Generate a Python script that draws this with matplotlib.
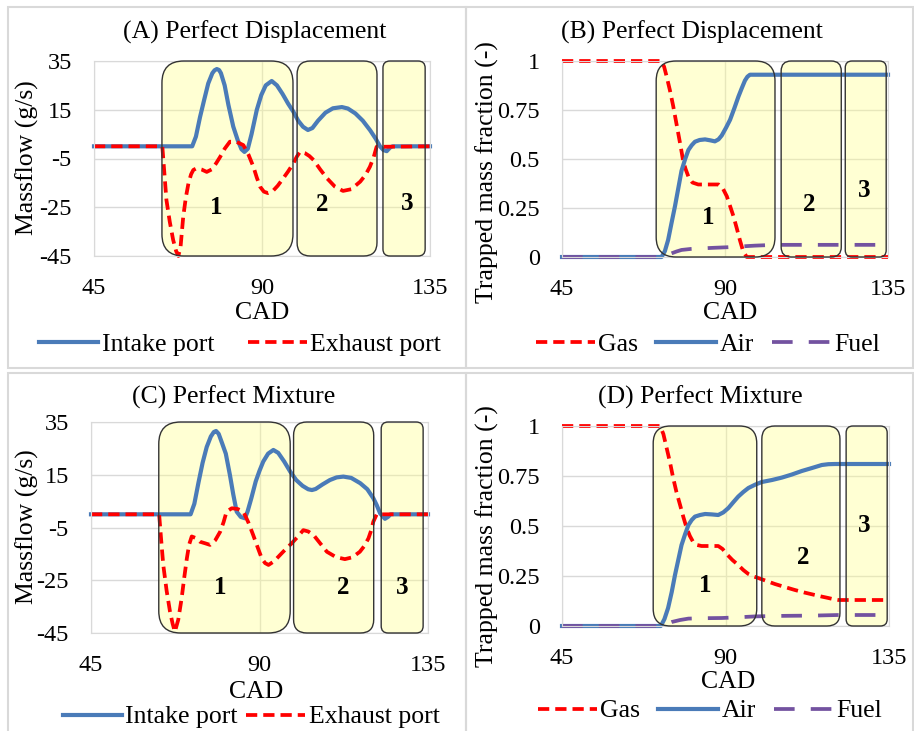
import matplotlib
matplotlib.use("Agg")
import matplotlib.pyplot as plt
from matplotlib.patches import FancyBboxPatch, Rectangle

plt.rcParams["font.family"] = ["Liberation Serif", "DejaVu Serif"]

# ---- values ----
cad_ticks = [45, 90, 135]
flow_ticks = [-45, -25, -5, 15, 35]
flow_labels = ["-45", "-25", "-5", "15", "35"]
frac_ticks = [0, 0.25, 0.5, 0.75, 1]
frac_labels = ["0", "0.25", "0.5", "0.75", "1"]

# (A) perfect displacement - port massflow (g/s)
a_intake_cad = [45, 71.3, 72.3, 73.4, 74.5, 75.6, 76.7, 77.3, 77.9, 78.5, 79.0, 80.0, 81.0, 82.3,
                83.5, 84.5, 85.3, 86.2, 87.2, 88.6, 89.8, 91.0, 92.6, 94.0, 95.5, 97.0, 98.4,
                99.7, 101.0, 102.3, 103.5, 105.0, 107.0, 109.0, 111.4, 113.0, 115.0, 117.0,
                119.0, 120.5, 121.6, 122.5, 123.4, 124.3, 125.0, 135]
a_intake = [0, 0, 4, 12, 19, 25.8, 30, 31.2, 31.7, 31.3, 30, 25, 17, 8.1,
            2.5, -1.2, -2.3, -1, 5, 14.9, 21, 25, 26.8, 25, 21.5, 17.5, 14.2,
            10.5, 8, 6.7, 7.5, 10.5, 13.8, 15.6, 16.1, 15.5, 13.5, 10.5,
            6.5, 3, 0, -1.5, -2, -0.5, 0, 0]
a_exhaust_cad = [45, 63.3, 63.8, 64.4, 65.3, 66.2, 67.0, 67.6, 68.2, 68.9, 69.6, 70.3, 71.0,
                 71.6, 72.5, 73.8, 75.2, 76.5, 77.7, 78.8, 80.0, 81.4, 83.2, 85.0, 86.4,
                 87.7, 88.6, 89.5, 90.5, 91.6, 92.8, 94.2, 95.7, 97.0, 98.4, 99.3, 100.2,
                 101.5, 102.7, 103.8, 105.6, 107.4, 109.5, 111.7, 113.9, 116.3, 117.7,
                 118.9, 119.9, 120.7, 135]
a_exhaust = [0, 0, -10, -22, -31, -38.4, -43, -45, -41, -28.9, -21, -15.2, -11.5,
             -9.7, -9, -9.5, -10.5, -9.5, -7, -4.3, -1, 1.9, 1.8, 0.5, -3.5,
             -8.4, -12.8, -16.6, -18.6, -19.2, -18.5, -16.2, -13.1, -10.3, -7, -4.3, -2.2,
             -2.8, -4, -5.6, -9.5, -13.1, -16.5, -18.3, -17.6, -14.5, -11.8,
             -8.4, -4.5, -0.2, 0]

# (B) perfect displacement - trapped mass fraction
b_gas_cad = [45, 72.5, 73.2, 73.9, 74.8, 75.7, 76.4, 77.1, 77.8, 78.4, 79.1, 79.9, 81.0, 82.6,
             85.0, 88.2, 89.4, 90.5, 91.4, 92.3, 93.2, 94.1, 95.0, 96.0, 135]
b_gas = [1, 1, 0.97, 0.92, 0.85, 0.77, 0.70, 0.63, 0.56, 0.495, 0.45, 0.41, 0.38, 0.37,
         0.37, 0.37, 0.35, 0.31, 0.26, 0.21, 0.15, 0.087, 0.03, 0, 0]
b_air_cad = [45, 72.5, 73.4, 74.3, 75.2, 76.2, 77.1, 78.0, 79.0, 79.9, 80.8, 81.7, 83.0, 84.5,
             86.0, 87.2, 88.2, 89.1, 90.3, 91.4, 92.6, 93.7, 94.6, 95.5, 96.2, 96.9, 135]
b_air = [0, 0, 0.03, 0.087, 0.17, 0.26, 0.35, 0.44, 0.50, 0.546, 0.57, 0.588, 0.597, 0.60,
         0.595, 0.59, 0.60, 0.62, 0.66, 0.70, 0.76, 0.818, 0.86, 0.90, 0.92, 0.93, 0.93]
b_fuel_cad = [45, 72.5, 73.8, 75.3, 76.6, 78.0, 80.5, 83.5, 87.0, 90.9, 94.5, 98.3, 101.0, 103.8, 135]
b_fuel = [0, 0, 0.008, 0.019, 0.028, 0.036, 0.041, 0.044, 0.047, 0.05, 0.054, 0.058, 0.06, 0.062, 0.062]

# (C) perfect mixture - port massflow (g/s)
c_intake_cad = [45, 71.6, 72.6, 73.7, 74.8, 75.9, 77.0, 77.8, 78.4, 79.1, 80.0, 81.0, 82.1, 83.0,
                83.9, 85.0, 86.1, 86.8, 87.8, 89.0, 90.0, 91.0, 92.3, 93.7, 95.0, 96.6, 98.2,
                99.8, 101.5, 103.0, 104.0, 105.0, 106.8, 108.8, 110.6, 112.4, 114.5, 116.9,
                118.8, 120.4, 121.3, 122.2, 123.5, 124.3, 125.0, 135]
c_intake = [0, 0, 4, 12, 19.5, 25.5, 29.5, 31.2, 31.6, 30.5, 27, 23, 14.9, 7.5,
            1, -1, -1.5, 1, 6, 12.5, 16.5, 20, 23, 24.4, 23.3, 20, 16.2,
            13, 10.8, 9.5, 9.2, 9.6, 11.3, 13, 14, 14.3, 13.8, 11.8,
            9.5, 6.1, 3.5, 0.4, -1.7, -1, 0, 0]
c_exhaust_cad = [45, 63.2, 63.7, 64.3, 65.2, 66.1, 66.8, 67.4, 68.3, 69.2, 69.9, 70.6, 71.2,
                 71.9, 73.0, 74.1, 75.5, 76.8, 78.2, 79.5, 80.4, 81.2, 82.6, 84.2, 85.7,
                 87.0, 88.3, 89.5, 90.6, 91.5, 92.4, 93.9, 95.5, 97.0, 98.6, 100.2, 101.7,
                 103.0, 104.4, 106.2, 108.0, 110.4, 112.8, 114.8, 116.8, 118.0, 119.1,
                 119.8, 120.4, 121.3, 135]
c_exhaust = [0, 0, -9, -19.2, -29, -36.9, -41.5, -44.5, -40, -31.9, -24, -16.7, -11.5,
             -8.4, -9, -10.4, -11, -11.6, -9.8, -6.6, -3, 1, 2.3, 2, 1,
             -3, -7.8, -12.5, -16.7, -18.5, -19.2, -17.8, -15.4, -13.2, -11, -8.5, -6,
             -6.5, -7.8, -11, -14.2, -16.2, -17, -16.3, -14.2, -12, -9.1,
             -6.2, -2.8, 0, 0]

# (D) perfect mixture - trapped mass fraction
d_gas_cad = [45, 72.0, 72.9, 73.8, 74.7, 75.6, 76.5, 77.5, 78.4, 79.3, 80.2, 81.1, 82.2, 83.4,
             85.5, 88.0, 89.2, 90.3, 91.9, 93.5, 94.9, 96.3, 97.7, 99.0, 101.3, 103.6,
             106.3, 109.1, 111.8, 114.6, 116.5, 118.3, 119.7, 121.1, 135]
d_gas = [1, 1, 0.96, 0.89, 0.82, 0.74, 0.67, 0.605, 0.545, 0.49, 0.45, 0.42, 0.405, 0.40,
         0.40, 0.40, 0.385, 0.36, 0.33, 0.305, 0.28, 0.26, 0.248, 0.24, 0.225, 0.21,
         0.195, 0.18, 0.167, 0.155, 0.147, 0.14, 0.134, 0.13, 0.13]
d_air_cad = [45, 72.2, 73.2, 74.2, 75.2, 76.1, 77.0, 77.9, 78.9, 79.8, 80.7, 81.6, 83.0, 84.4,
             86.2, 88.0, 89.4, 90.8, 92.2, 93.5, 94.9, 96.3, 98.2, 100.0, 102.8, 105.5,
             108.2, 111.0, 113.8, 116.5, 118.3, 120.1, 135]
d_air = [0, 0, 0.035, 0.09, 0.17, 0.255, 0.33, 0.405, 0.46, 0.505, 0.53, 0.547, 0.555, 0.56,
         0.558, 0.555, 0.568, 0.59, 0.62, 0.647, 0.67, 0.69, 0.707, 0.72, 0.73, 0.742,
         0.757, 0.775, 0.79, 0.805, 0.809, 0.81, 0.81]
d_fuel_cad = [45, 72.5, 73.8, 75.2, 77.5, 79.8, 84.0, 89.0, 94.0, 98.2, 103.0, 107.4, 114.0, 121.1, 135]
d_fuel = [0, 0, 0.01, 0.02, 0.03, 0.037, 0.039, 0.04, 0.044, 0.048, 0.05, 0.051, 0.052, 0.055, 0.055]

# scavenging phases 1/2/3 (CAD spans) and where their numbers sit
phase_names = ["1", "2", "3"]
a_phases = [(63.2, 98.3), (99.4, 120.8), (122.4, 133.7)]
a_phase_xy = [(77.7, -25.3), (106.1, -24.0), (128.9, -23.3)]
b_phases = [(71.0, 103.8), (105.5, 122.1), (123.2, 134.5)]
b_phase_xy = [(85.3, 0.20), (113.2, 0.27), (128.4, 0.34)]
c_phases = [(63.1, 98.2), (99.1, 120.5), (122.5, 133.7)]
c_phase_xy = [(79.5, -27.6), (112.4, -27.6), (128.0, -27.6)]
d_phases = [(70.1, 98.6), (100.0, 121.5), (123.2, 134.5)]
d_phase_xy = [(84.4, 0.205), (111.3, 0.345), (128.1, 0.50)]

BLUE = "#4A7BB8"
RED = "#FF0000"
PURPLE = "#7352A0"
GRID = "#D9D9D9"
FS = 18.5

W, H = 914, 731
fig = plt.figure(figsize=(W / 100, H / 100), dpi=100)


def px_axes(left, top, right, bottom):
    return fig.add_axes([left / W, 1 - bottom / H, (right - left) / W, (bottom - top) / H])


def ftext(x, y, s, **kw):
    fig.text(x / W, 1 - y / H, s, ha="center", va="center", fontsize=FS, **kw)


def style(ax, ylim, yticks, ylabels):
    ax.set_xlim(45, 135)
    ax.set_ylim(*ylim)
    ax.set_xticks(cad_ticks)
    ax.set_yticks(yticks)
    ax.set_yticklabels(ylabels)
    ax.tick_params(length=0, labelsize=17.5, pad=16)
    ax.grid(True, color=GRID, lw=1, zorder=0)
    ax.set_axisbelow(True)
    for s in ax.spines.values():
        s.set_color(GRID)


def phases(ax, spans, xy):
    bb = ax.get_position()
    ax_w, ax_h = bb.width * W, bb.height * H
    ppu = ax_w / 90.0  # pixels per CAD
    for (x0, x1), (tx, ty), name in zip(spans, xy, phase_names):
        r_px = min((x1 - x0) * ppu, ax_h) / 6.0
        common = dict(boxstyle=f"round,pad=0,rounding_size={r_px / ppu}",
                      mutation_aspect=ppu / ax_h,
                      transform=ax.get_xaxis_transform(), clip_on=False)
        # yellow fill under the curves, outline on top
        ax.add_patch(FancyBboxPatch((x0, 0), x1 - x0, 1, facecolor=(1, 1, 0.55, 0.38),
                                    edgecolor="none", zorder=1.5, **common))
        ax.add_patch(FancyBboxPatch((x0, 0), x1 - x0, 1, facecolor="none",
                                    edgecolor="#333333", lw=1.0, zorder=3, **common))
        ax.text(tx, ty, name, ha="center", va="center", fontsize=18,
                fontweight="bold", zorder=4)


def port_lines(ax, xi, yi, xe, ye):
    l1, = ax.plot(xi, yi, color=BLUE, lw=3.0, clip_on=False, zorder=2)
    l2, = ax.plot(xe, ye, color=RED, lw=2.7, dashes=(3, 1.6), clip_on=False, zorder=2)
    return [l1, l2]


def frac_lines(ax, xg, yg, xa, ya, xf, yf):
    l1, = ax.plot(xg, yg, color=RED, lw=2.7, dashes=(3, 1.6), clip_on=False, zorder=2)
    l2, = ax.plot(xa, ya, color=BLUE, lw=3.0, clip_on=False, zorder=2)
    l3, = ax.plot(xf, yf, color=PURPLE, lw=2.7, dashes=(5.5, 4.3), clip_on=False, zorder=2)
    return [l1, l2, l3]


def legend(handles, labels, cx, cy, colsp):
    fig.legend(handles, labels, loc="center", bbox_to_anchor=(cx / W, 1 - cy / H),
               ncol=len(labels), frameon=False, fontsize=FS, handlelength=2.3,
               handletextpad=0.15, columnspacing=colsp, borderaxespad=0, borderpad=0)


# panel frames (Excel chart areas)
for (l, t, r, b) in [(8, 7, 466, 368), (466, 7, 913, 368), (8, 373, 466, 740), (466, 373, 913, 740)]:
    fig.add_artist(Rectangle((l / W, 1 - b / H), (r - l) / W, (b - t) / H,
                             transform=fig.transFigure, fill=False,
                             edgecolor=GRID, lw=1.5))

# (A)
axA = px_axes(94, 61, 430, 256)
style(axA, (-45, 35), flow_ticks, flow_labels)
hA = port_lines(axA, a_intake_cad, a_intake, a_exhaust_cad, a_exhaust)
phases(axA, a_phases, a_phase_xy)
ftext(255, 32, "(A) Perfect Displacement")
ftext(27, 158, "Massflow (g/s)", rotation=90)
ftext(262, 313, "CAD")
legend(hA, ["Intake port", "Exhaust port"], 240, 345, 1.3)

# (B)
axB = px_axes(562, 61, 888, 257)
style(axB, (0, 1), frac_ticks, frac_labels)
hB = frac_lines(axB, b_gas_cad, b_gas, b_air_cad, b_air, b_fuel_cad, b_fuel)
phases(axB, b_phases, b_phase_xy)
ftext(692, 32, "(B) Perfect Displacement")
ftext(487, 172, "Trapped mass fraction (-)", rotation=90)
ftext(730, 313, "CAD")
legend(hB, ["Gas", "Air", "Fuel"], 708, 345, 0.7)

# (C)
axC = px_axes(91, 422, 428, 633)
style(axC, (-45, 35), flow_ticks, flow_labels)
hC = port_lines(axC, c_intake_cad, c_intake, c_exhaust_cad, c_exhaust)
phases(axC, c_phases, c_phase_xy)
ftext(234, 397, "(C) Perfect Mixture")
ftext(27, 527, "Massflow (g/s)", rotation=90)
ftext(256, 692, "CAD")
legend(hC, ["Intake port", "Exhaust port"], 251, 717, 0.3)

# (D)
axD = px_axes(562, 426, 889, 626)
style(axD, (0, 1), frac_ticks, frac_labels)
hD = frac_lines(axD, d_gas_cad, d_gas, d_air_cad, d_air, d_fuel_cad, d_fuel)
phases(axD, d_phases, d_phase_xy)
ftext(700, 397, "(D) Perfect Mixture")
ftext(487, 536, "Trapped mass fraction (-)", rotation=90)
ftext(728, 682, "CAD")
legend(hD, ["Gas", "Air", "Fuel"], 710, 711, 0.7)

fig.savefig("out.png", dpi=100)
